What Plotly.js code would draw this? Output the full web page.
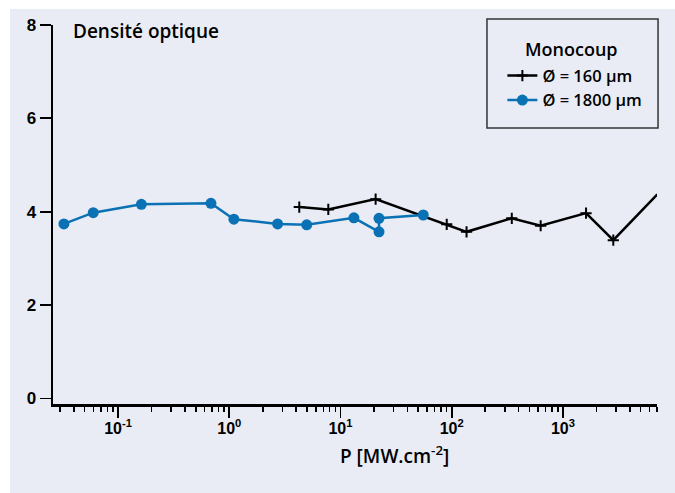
<!DOCTYPE html>
<html>
<head>
<meta charset="utf-8">
<script src="https://cdn.plot.ly/plotly-3.0.1.min.js"></script>
<style>
  html, body { margin:0; padding:0; background:#ffffff; }
  #chart { position:absolute; left:10px; top:9px; width:665px; height:484px; }
</style>
</head>
<body>
<div id="chart"></div>
<script>
// Series: Ø = 160 µm (black)
const p160 = [4.26, 7.77, 20.7, 90.2, 136, 347, 631, 1614, 2838, 7063];
const d160 = [4.10, 4.05, 4.27, 3.73, 3.57, 3.86, 3.70, 3.97, 3.39, 4.37];
// Series: Ø = 1800 µm (blue)
const p1800 = [0.0326, 0.0598, 0.162, 0.684, 1.10, 2.72, 4.97, 13.2, 22.2, 22.2, 55.5];
const d1800 = [3.74, 3.98, 4.16, 4.18, 3.84, 3.74, 3.72, 3.87, 3.57, 3.86, 3.93];

const name160 = 'Ø = 160 µm';
const name1800 = 'Ø = 1800 µm';
const legendTitle = 'Monocoup';
const yTitle = 'Densité optique';
const xTitle = 'P [MW.cm<sup>-2</sup>]';

const xTickVals = [0.1, 1, 10, 100, 1000];
const xTickText = ['10<sup>-1</sup>', '10<sup>0</sup>', '10<sup>1</sup>', '10<sup>2</sup>', '10<sup>3</sup>'];
const yTickVals = [0, 2, 4, 6, 8];

// minor tick positions 2..9 in each decade
const minorVals = [];
for (let e = -2; e <= 3; e++) {
  for (let m = 2; m <= 9; m++) minorVals.push(m * Math.pow(10, e));
}

const bg = '#e9ecf4';
const blue = '#0a72b4';
const numFont = "'Liberation Sans Narrow', 'Arial Narrow', 'Liberation Sans', Arial, sans-serif";
const txtFont = "'Open Sans', 'Liberation Sans', Arial, sans-serif";

const traces = [
  {
    x: p160, y: d160, name: name160, type: 'scatter', mode: 'lines+markers',
    line: {color: '#000000', width: 2.5},
    marker: {symbol: 'cross-thin-open', size: 8, color: '#000000', line: {color: '#000000', width: 2}},
    cliponaxis: false
  },
  {
    x: p1800, y: d1800, name: name1800, type: 'scatter', mode: 'lines+markers',
    line: {color: blue, width: 2.5},
    marker: {symbol: 'circle', size: 11, color: blue},
    cliponaxis: false
  }
];

const layout = {
  width: 665, height: 484,
  margin: {l: 43, r: 18, t: 16, b: 89},
  paper_bgcolor: bg, plot_bgcolor: bg,
  showlegend: true,
  legend: {
    x: 0.744, y: 0.912, xanchor: 'left', yanchor: 'top',
    bgcolor: 'rgba(0,0,0,0)', borderwidth: 0,
    font: {family: txtFont, size: 16.5, color: '#000000', weight: 600},
    tracegroupgap: 0
  },
  xaxis: {
    type: 'log', range: [-1.585, 3.846],
    showline: true, linecolor: '#000000', linewidth: 2.5, mirror: false,
    showgrid: false, zeroline: false,
    ticks: 'outside', ticklen: 11, tickwidth: 1.8, tickcolor: '#000000',
    ticklabelstandoff: -3,
    tickmode: 'array', tickvals: xTickVals, ticktext: xTickText,
    tickfont: {family: numFont, size: 16, color: '#000000', weight: 'bold'},
    minor: {tickmode: 'array', tickvals: minorVals, ticks: 'outside', ticklen: 5, tickwidth: 1.5, tickcolor: '#000000', showgrid: false}
  },
  yaxis: {
    range: [-0.118, 8],
    showline: true, linecolor: '#000000', linewidth: 2.5,
    showgrid: false, zeroline: false,
    ticks: 'outside', ticklen: 11, tickwidth: 1.8, tickcolor: '#000000',
    tickmode: 'array', tickvals: yTickVals,
    tickfont: {family: numFont, size: 17, color: '#000000', weight: 'bold'}
  },
  shapes: [
    {type: 'rect', xref: 'paper', yref: 'paper', x0: 0.7185, x1: 1.0017, y0: 0.728, y1: 1.0158,
     line: {color: '#333333', width: 1.5}, fillcolor: 'rgba(0,0,0,0)'}
  ],
  annotations: [
    {xref: 'paper', yref: 'paper', x: 0.03, y: 0.984, xanchor: 'left', yanchor: 'middle',
     text: yTitle, showarrow: false, font: {family: txtFont, size: 19, color: '#000000', weight: 600}},
    {xref: 'paper', yref: 'paper', x: 0.859, y: 0.937, xanchor: 'center', yanchor: 'middle',
     text: legendTitle, showarrow: false, font: {family: txtFont, size: 18, color: '#000000', weight: 600}},
    {xref: 'paper', yref: 'paper', x: 0.566, y: -0.1346, xanchor: 'center', yanchor: 'middle',
     text: xTitle, showarrow: false, font: {family: txtFont, size: 19, color: '#000000', weight: 600}}
  ]
};

Plotly.newPlot('chart', traces, layout, {displayModeBar: false, staticPlot: true});
</script>
</body>
</html>
